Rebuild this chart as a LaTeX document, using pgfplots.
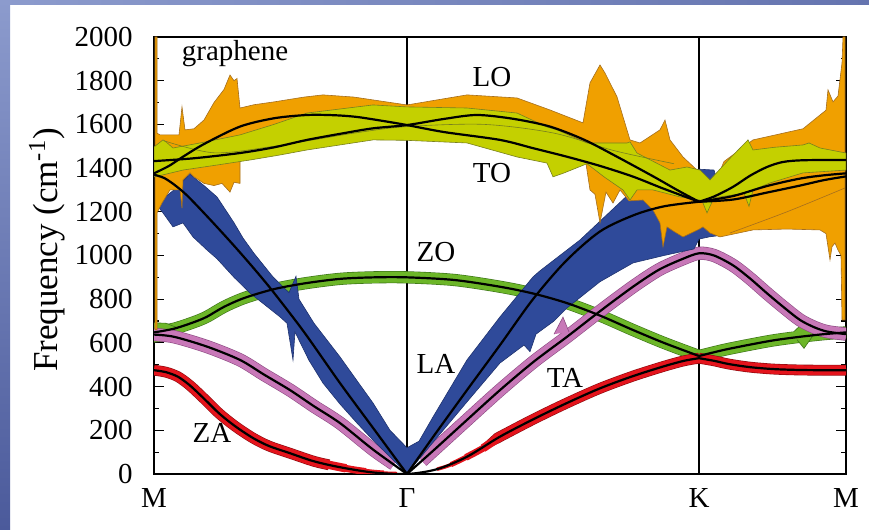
\documentclass[border=0pt]{standalone}
\usepackage{fontspec}
\setmainfont{Liberation Serif}
\usepackage{pgfplots}
\pgfplotsset{compat=1.18}
\definecolor{cOr}{RGB}{240,160,0}
\definecolor{cOrD}{RGB}{165,110,30}
\definecolor{cYg}{RGB}{196,208,0}
\definecolor{cYgD}{RGB}{120,128,30}
\definecolor{cBl}{RGB}{47,74,154}
\definecolor{cBlD}{RGB}{30,50,110}
\definecolor{cGr}{RGB}{108,182,40}
\definecolor{cGrD}{RGB}{60,115,25}
\definecolor{cPk}{RGB}{200,120,184}
\definecolor{cPkD}{RGB}{140,75,130}
\definecolor{cRd}{RGB}{228,20,28}
\definecolor{cRdD}{RGB}{140,10,15}
\definecolor{bgT}{RGB}{140,155,205}
\definecolor{bgB}{RGB}{75,90,155}
\begin{document}
\begin{tikzpicture}[font=\fontsize{14.5}{17}\selectfont]
\useasboundingbox (0,0) rectangle (434.5pt,265pt);
\shade[top color=bgT,bottom color=bgB] (0,0) rectangle (5pt,265pt);
\shade[left color=bgT,right color=bgB!60!bgT] (0,262.5pt) rectangle (434.5pt,265pt);
\begin{axis}[at={(77pt,28pt)}, anchor=south west, scale only axis,
  width=346pt, height=218.5pt,
  xmin=0, xmax=692, ymin=0, ymax=2000,
  xtick={0,253,545,692}, xticklabels={M,Γ,K,M},
  xmajorgrids, major x grid style={black, line width=0.8pt},
  xtick style={draw=none},
  ytick={0,200,...,2000},
  yticklabels={0,200,400,600,800,1000,1200,1400,1600,1800,2000},
  minor y tick num=1,
  major tick length=5pt, minor tick length=2.5pt,
  ytick style={black, line width=0.6pt},
  axis line style={line width=0.8pt},
  yticklabel style={anchor=east, inner sep=0pt, xshift=-10.5pt},
  xticklabel style={anchor=north, inner sep=0pt, yshift=-7pt},
  clip=true]
% ---------- green ZO band
\addplot[cGrD, line width=6.1pt, smooth, tension=0.5] coordinates {(0,648) (20,665) (40,695) (53,720) (70,765) (90,805) (119,845) (150,872) (186,893) (220,900) (253,900) (300,888) (346,857) (380,825) (413,782) (446,725) (479,659) (510,600) (545,540)};
\addplot[cGrD, line width=6.1pt, smooth, tension=0.5] coordinates {(545,540) (570,568) (596,592) (620,612) (646,628) (670,640) (692,648)};
\addplot[cGr, line width=5.5pt, smooth, tension=0.5] coordinates {(0,648) (20,665) (40,695) (53,720) (70,765) (90,805) (119,845) (150,872) (186,893) (220,900) (253,900) (300,888) (346,857) (380,825) (413,782) (446,725) (479,659) (510,600) (545,540)};
\addplot[cGr, line width=5.5pt, smooth, tension=0.5] coordinates {(545,540) (570,568) (596,592) (620,612) (646,628) (670,640) (692,648)};
\addplot[fill=cGr, draw=cGrD, line width=0.3pt] coordinates {(0,692) (12,690) (22,672) (12,610) (0,603)};
\addplot[fill=cGr, draw=cGrD, line width=0.3pt] coordinates {(640,652) (650,696) (655,655) (660,640) (650,575) (643,615)};
% ---------- red ZA band (tapering towards Gamma)
\addplot[cRdD, line width=5.4pt, smooth, tension=0.5] coordinates {(0,475) (12,466) (24,445) (36,405) (50,345) (64,282) (75,240) (86,203) (100,162) (115,128) (136,95) (160,58) (175,42)};
\addplot[cRdD, line width=5.4pt, smooth, tension=0.5] coordinates {(345,168) (346,171) (380,252) (413,325) (446,392) (479,448) (510,493) (530,518) (545,530)};
\addplot[cRdD, line width=5.4pt, smooth, tension=0.5] coordinates {(545,530) (560,518) (575,503) (596,489) (620,480) (646,476) (670,475) (692,475)};
\addplot[cRd, line width=4.8pt, smooth, tension=0.5] coordinates {(0,475) (12,466) (24,445) (36,405) (50,345) (64,282) (75,240) (86,203) (100,162) (115,128) (136,95) (160,58) (175,42)};
\addplot[cRd, line width=4.2pt, smooth, tension=0.5] coordinates {(170,47) (180,37) (192,26)};
\addplot[cRd, line width=3.5pt, smooth, tension=0.5] coordinates {(188,29) (200,19) (212,11)};
\addplot[cRd, line width=2.8pt, smooth, tension=0.5] coordinates {(208,13) (219,7) (230,3)};
\addplot[cRd, line width=2.0pt, smooth, tension=0.5] coordinates {(226,4) (235,2) (243,1)};
\addplot[cRd, line width=1.8pt, smooth, tension=0.5] coordinates {(283,22) (292,34) (300,48)};
\addplot[cRd, line width=2.6pt, smooth, tension=0.5] coordinates {(297,43) (305,60) (315,83)};
\addplot[cRd, line width=3.4pt, smooth, tension=0.5] coordinates {(312,76) (322,100) (332,125)};
\addplot[cRd, line width=4.1pt, smooth, tension=0.5] coordinates {(329,118) (338,145) (348,176)};
\addplot[cRd, line width=4.8pt, smooth, tension=0.5] coordinates {(345,168) (346,171) (380,252) (413,325) (446,392) (479,448) (510,493) (530,518) (545,530)};
\addplot[cRd, line width=4.8pt, smooth, tension=0.5] coordinates {(545,530) (560,518) (575,503) (596,489) (620,480) (646,476) (670,475) (692,475)};
% ---------- pink TA band
\addplot[cPkD, line width=6.6pt, smooth, tension=0.5] coordinates {(0,638) (20,628) (53,583) (86,522) (110,455) (136,384) (160,310) (186,233) (219,112) (240,45)};
\addplot[cPkD, line width=6.6pt, smooth, tension=0.5] coordinates {(268,60) (280,110) (310,235) (346,384) (380,515) (413,628) (446,745) (479,857) (505,935) (529,985) (545,1010) (560,1000) (579,955) (596,895) (613,827) (630,762) (646,705) (660,672) (673,652) (692,640)};
\addplot[cPk, line width=6pt, smooth, tension=0.5] coordinates {(0,638) (20,628) (53,583) (86,522) (110,455) (136,384) (160,310) (186,233) (219,112) (240,45)};
\addplot[cPk, line width=6pt, smooth, tension=0.5] coordinates {(268,60) (280,110) (310,235) (346,384) (380,515) (413,628) (446,745) (479,857) (505,935) (529,985) (545,1010) (560,1000) (579,955) (596,895) (613,827) (630,762) (646,705) (660,672) (673,652) (692,640)};
\addplot[fill=cPk, draw=cPkD, line width=0.3pt] coordinates {(400,640) (409,718) (415,650)};
% ---------- blue LA band
\addplot[fill=cBl, draw=cBlD, line width=0.3pt] coordinates {(3,1230) (6,1250) (20,1300) (30,1345) (36,1372) (50,1320) (63,1268) (80,1150) (89,1080) (100,1010) (119,902) (135,830) (142,905) (145,800) (160,690) (186,536) (203,427) (219,325) (236,200) (253,120) (265,150) (279,261) (313,522) (346,719) (379,902) (386,930) (426,1071) (476,1286) (480,1300) (520,1340) (545,1395) (560,1391) (566,1300) (566,1150) (563,1090) (555,1085) (545,1075) (540,1030) (510,1000) (479,966) (446,880) (413,760) (400,700) (382,640) (376,560) (370,590) (346,508) (313,330) (280,150) (256,18) (253,0) (236,78) (220,150) (203,233) (186,320) (169,416) (155,520) (141,650) (139,522) (133,690) (126,719) (96,828) (80,900) (63,985) (53,1025) (39,1085) (29,1149) (19,1131) (9,1195) (3,1230)};
% ---------- orange LO band
\addplot[fill=cOr, draw=cOrD, line width=0.3pt] coordinates {(1,660) (1,2000) (3,2000) (3,1560) (6,1552) (25,1552) (28,1680) (31,1575) (40,1580) (50,1620) (60,1700) (70,1760) (76,1826) (80,1800) (83,1810) (86,1675) (100,1690) (120,1703) (150,1725) (169,1735) (200,1725) (219,1712) (253,1689) (313,1735) (363,1721) (396,1666) (429,1607) (436,1790) (446,1872) (451,1835) (463,1726) (476,1529) (486,1515) (506,1575) (511,1620) (516,1529) (529,1451) (543,1391) (546,1376) (552,1340) (562,1345) (570,1430) (599,1529) (649,1580) (672,1665) (674,1758) (679,1703) (684,1730) (688,1881) (689,2000) (691,2000) (691,705) (688,705) (687,1000) (684,1025) (681,1057) (678,1040) (676,980) (672,1100) (666,1117) (633,1121) (599,1117) (566,1085) (556,1103) (549,1131) (545,1120) (529,1085) (520,1110) (513,1131) (509,1040) (506,1149) (499,1208) (489,1254) (475,1250) (466,1300) (459,1240) (452,1290) (446,1150) (441,1280) (436,1300) (432,1420) (400,1450) (330,1560) (253,1580) (200,1540) (150,1520) (100,1480) (86,1483) (86,1330) (80,1335) (76,1290) (68,1330) (60,1320) (50,1330) (40,1360) (36,1378) (29,1346) (28,1217) (26,1300) (16,1300) (8,1240) (3,1195) (3,660) (1,660)};
\addplot[cOrD, line width=0.3pt, smooth] coordinates {(576,1103) (633,1200) (691,1309)};
% ---------- yellow-green TO band
\addplot[fill=cYg, draw=cYgD, line width=0.3pt] coordinates {(0,1497) (9,1529) (12,1520) (19,1492) (46,1515) (86,1552) (120,1600) (153,1652) (219,1689) (253,1680) (313,1675) (363,1652) (393,1588) (403,1575) (433,1515) (473,1515) (476,1520) (483,1469) (516,1391) (533,1405) (546,1391) (556,1346) (575,1440) (594,1529) (599,1483) (620,1495) (649,1506) (655,1515) (666,1492) (692,1469) (692,1391) (649,1378) (616,1332) (599,1300) (595,1225) (590,1285) (566,1268) (560,1265) (553,1195) (549,1240) (546,1254) (526,1268) (499,1300) (483,1300) (476,1254) (469,1300) (450,1360) (433,1420) (409,1376) (399,1360) (393,1423) (363,1451) (313,1515) (253,1527) (219,1529) (153,1483) (126,1460) (96,1437) (63,1414) (29,1391) (9,1369) (0,1360) (0,1497)};
\addplot[cYgD, line width=0.3pt, smooth] coordinates {(10,1525) (60,1470) (120,1500) (200,1560) (253,1590) (330,1600) (400,1560) (460,1480) (520,1420)};
% ---------- black dispersion curves
\addplot[black, line width=1.1pt, smooth, tension=0.5] coordinates {(0,475) (12,466) (24,445) (36,405) (50,345) (64,282) (75,240) (86,203) (100,162) (115,128) (136,95) (160,58) (186,31) (219,7) (253,0) (283,22) (313,79) (346,171) (380,252) (413,325) (446,392) (479,448) (510,493) (530,518) (545,530)};
\addplot[black, line width=1.1pt, smooth, tension=0.5] coordinates {(545,530) (560,518) (575,503) (596,489) (620,480) (646,476) (670,475) (692,475)};
\addplot[black, line width=1.1pt, smooth, tension=0.5] coordinates {(0,648) (20,665) (40,695) (53,720) (70,765) (90,805) (119,845) (150,872) (186,893) (220,900) (253,900) (300,888) (346,857) (380,825) (413,782) (446,725) (479,659) (510,600) (545,540)};
\addplot[black, line width=1.1pt, smooth, tension=0.5] coordinates {(545,540) (570,568) (596,592) (620,612) (646,628) (670,640) (692,648)};
\addplot[black, line width=1.1pt, smooth, tension=0.5] coordinates {(0,638) (20,628) (53,583) (86,522) (110,455) (136,384) (160,310) (186,233) (219,112) (253,0)};
\addplot[black, line width=1.1pt, smooth, tension=0.5] coordinates {(253,0) (280,110) (310,235) (346,384) (380,515) (413,628) (446,745) (479,857) (505,935) (529,985) (545,1010) (560,1000) (579,955) (596,895) (613,827) (630,762) (646,705) (660,672) (673,652) (692,640)};
\addplot[black, line width=1.1pt, smooth, tension=0.5] coordinates {(0,1370) (10,1355) (20,1325) (33,1275) (55,1170) (79,1050) (100,940) (119,835) (150,650) (186,416) (220,205) (253,0)};
\addplot[black, line width=1.1pt, smooth, tension=0.5] coordinates {(253,0) (279,169) (313,384) (346,590) (379,800) (412,975) (446,1110) (480,1185) (510,1225) (545,1246)};
\addplot[black, line width=1.1pt, smooth, tension=0.5] coordinates {(0,1376) (15,1410) (29,1452) (50,1510) (86,1590) (120,1628) (153,1643) (180,1642) (203,1634) (230,1615) (253,1597) (290,1565) (346,1529) (380,1490) (413,1452) (446,1410) (479,1361) (510,1305) (545,1246)};
\addplot[black, line width=1.1pt, smooth, tension=0.5] coordinates {(0,1432) (40,1445) (86,1469) (120,1495) (153,1529) (190,1560) (219,1582) (253,1597) (290,1625) (323,1643) (360,1625) (396,1590) (430,1530) (463,1452) (500,1360) (525,1295) (545,1246)};
\addplot[black, line width=1.1pt, smooth, tension=0.5] coordinates {(545,1246) (560,1270) (579,1314) (596,1365) (613,1405) (629,1428) (650,1436) (692,1437)};
\addplot[black, line width=1.1pt, smooth, tension=0.5] coordinates {(545,1246) (579,1272) (613,1318) (646,1352) (670,1367) (692,1376)};
\addplot[black, line width=1.1pt, smooth, tension=0.5] coordinates {(545,1246) (579,1256) (613,1288) (646,1320) (670,1345) (692,1362)};
% ---------- labels
\node at (axis cs:81,1922) {graphene};
\node at (axis cs:338,1817) {LO};
\node at (axis cs:338,1378) {TO};
\node at (axis cs:282,1016) {ZO};
\node at (axis cs:282,503) {LA};
\node at (axis cs:411,439) {TA};
\node at (axis cs:58,188) {ZA};
\end{axis}
\node[rotate=90, font=\fontsize{17.5}{20}\selectfont] at (23.5pt,140pt) {Frequency (cm\textsuperscript{-1})};
\end{tikzpicture}
\end{document}
